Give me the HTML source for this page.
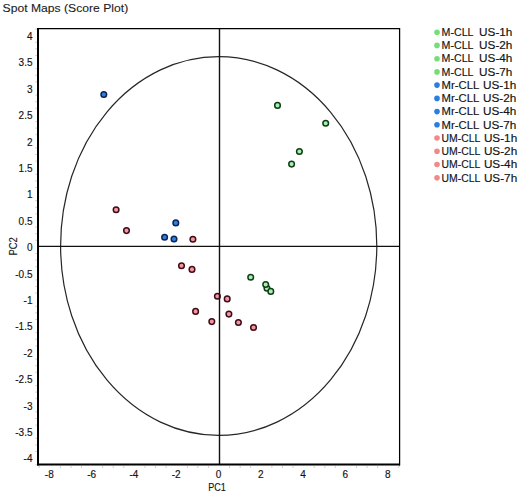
<!DOCTYPE html><html><head><meta charset="utf-8"><style>html,body{margin:0;padding:0;background:#fff;width:520px;height:494px;overflow:hidden}svg{display:block}text{font-family:"Liberation Sans", sans-serif;stroke:#1a1a1a;stroke-width:0.15px}</style></head><body>
<svg width="520" height="494" viewBox="0 0 520 494">
<rect x="0" y="0" width="520" height="494" fill="#fff"/>
<text x="2.6" y="12" font-size="10.4" fill="#222" style="stroke-width:0.1px" textLength="125.6" lengthAdjust="spacingAndGlyphs">Spot Maps (Score Plot)</text>
<ellipse cx="218.7" cy="246" rx="158.1" ry="189.4" fill="none" stroke="#262626" stroke-width="1.2"/>
<circle cx="116.1" cy="209.7" r="2.80" fill="#f2979f" stroke="#3d0c16" stroke-width="1.50"/>
<circle cx="126.5" cy="230.6" r="2.80" fill="#f2979f" stroke="#3d0c16" stroke-width="1.50"/>
<circle cx="192.9" cy="239.2" r="2.80" fill="#f2979f" stroke="#3d0c16" stroke-width="1.50"/>
<circle cx="181.5" cy="265.7" r="2.80" fill="#f2979f" stroke="#3d0c16" stroke-width="1.50"/>
<circle cx="192.0" cy="269.4" r="2.80" fill="#f2979f" stroke="#3d0c16" stroke-width="1.50"/>
<circle cx="217.4" cy="296.3" r="2.80" fill="#f2979f" stroke="#3d0c16" stroke-width="1.50"/>
<circle cx="227.2" cy="298.9" r="2.80" fill="#f2979f" stroke="#3d0c16" stroke-width="1.50"/>
<circle cx="195.6" cy="311.4" r="2.80" fill="#f2979f" stroke="#3d0c16" stroke-width="1.50"/>
<circle cx="228.9" cy="314.1" r="2.80" fill="#f2979f" stroke="#3d0c16" stroke-width="1.50"/>
<circle cx="211.8" cy="321.6" r="2.80" fill="#f2979f" stroke="#3d0c16" stroke-width="1.50"/>
<circle cx="238.4" cy="322.5" r="2.80" fill="#f2979f" stroke="#3d0c16" stroke-width="1.50"/>
<circle cx="253.5" cy="327.5" r="2.80" fill="#f2979f" stroke="#3d0c16" stroke-width="1.50"/>
<circle cx="103.8" cy="94.5" r="2.80" fill="#2f80e0" stroke="#0b2456" stroke-width="1.50"/>
<circle cx="175.8" cy="222.9" r="2.80" fill="#2f80e0" stroke="#0b2456" stroke-width="1.50"/>
<circle cx="164.6" cy="237.2" r="2.80" fill="#2f80e0" stroke="#0b2456" stroke-width="1.50"/>
<circle cx="174.0" cy="239.0" r="2.80" fill="#2f80e0" stroke="#0b2456" stroke-width="1.50"/>
<circle cx="277.5" cy="105.4" r="2.80" fill="#aaeeb0" stroke="#0f3d18" stroke-width="1.50"/>
<circle cx="325.7" cy="123.2" r="2.80" fill="#aaeeb0" stroke="#0f3d18" stroke-width="1.50"/>
<circle cx="299.4" cy="151.5" r="2.80" fill="#aaeeb0" stroke="#0f3d18" stroke-width="1.50"/>
<circle cx="291.6" cy="164.1" r="2.80" fill="#aaeeb0" stroke="#0f3d18" stroke-width="1.50"/>
<circle cx="250.7" cy="277.3" r="2.80" fill="#aaeeb0" stroke="#0f3d18" stroke-width="1.50"/>
<circle cx="267.0" cy="288.3" r="2.80" fill="#aaeeb0" stroke="#0f3d18" stroke-width="1.50"/>
<circle cx="265.7" cy="284.5" r="2.80" fill="#aaeeb0" stroke="#0f3d18" stroke-width="1.50"/>
<circle cx="270.8" cy="291.4" r="2.80" fill="#aaeeb0" stroke="#0f3d18" stroke-width="1.50"/>
<line x1="38" y1="246.4" x2="400" y2="246.4" stroke="#111" stroke-width="1.35"/>
<line x1="219.5" y1="28" x2="219.5" y2="465" stroke="#111" stroke-width="1.4"/>
<line x1="37.5" y1="28.6" x2="399.5" y2="28.6" stroke="#000" stroke-width="1.1"/>
<line x1="399.6" y1="28" x2="399.6" y2="465.5" stroke="#000" stroke-width="1.25"/>
<line x1="38" y1="28" x2="38" y2="465.5" stroke="#000" stroke-width="2"/>
<line x1="37" y1="464.5" x2="400" y2="464.5" stroke="#000" stroke-width="2"/>
<line x1="39.2" y1="466" x2="39.2" y2="468" stroke="#d0d0d0" stroke-width="1"/>
<line x1="60.4" y1="466" x2="60.4" y2="468" stroke="#d0d0d0" stroke-width="1"/>
<line x1="71.0" y1="466" x2="71.0" y2="468" stroke="#d0d0d0" stroke-width="1"/>
<line x1="81.5" y1="466" x2="81.5" y2="468" stroke="#d0d0d0" stroke-width="1"/>
<line x1="102.7" y1="466" x2="102.7" y2="468" stroke="#d0d0d0" stroke-width="1"/>
<line x1="113.2" y1="466" x2="113.2" y2="468" stroke="#d0d0d0" stroke-width="1"/>
<line x1="123.8" y1="466" x2="123.8" y2="468" stroke="#d0d0d0" stroke-width="1"/>
<line x1="145.0" y1="466" x2="145.0" y2="468" stroke="#d0d0d0" stroke-width="1"/>
<line x1="155.6" y1="466" x2="155.6" y2="468" stroke="#d0d0d0" stroke-width="1"/>
<line x1="166.1" y1="466" x2="166.1" y2="468" stroke="#d0d0d0" stroke-width="1"/>
<line x1="187.3" y1="466" x2="187.3" y2="468" stroke="#d0d0d0" stroke-width="1"/>
<line x1="197.8" y1="466" x2="197.8" y2="468" stroke="#d0d0d0" stroke-width="1"/>
<line x1="208.4" y1="466" x2="208.4" y2="468" stroke="#d0d0d0" stroke-width="1"/>
<line x1="229.6" y1="466" x2="229.6" y2="468" stroke="#d0d0d0" stroke-width="1"/>
<line x1="240.2" y1="466" x2="240.2" y2="468" stroke="#d0d0d0" stroke-width="1"/>
<line x1="250.7" y1="466" x2="250.7" y2="468" stroke="#d0d0d0" stroke-width="1"/>
<line x1="271.9" y1="466" x2="271.9" y2="468" stroke="#d0d0d0" stroke-width="1"/>
<line x1="282.4" y1="466" x2="282.4" y2="468" stroke="#d0d0d0" stroke-width="1"/>
<line x1="293.0" y1="466" x2="293.0" y2="468" stroke="#d0d0d0" stroke-width="1"/>
<line x1="314.2" y1="466" x2="314.2" y2="468" stroke="#d0d0d0" stroke-width="1"/>
<line x1="324.8" y1="466" x2="324.8" y2="468" stroke="#d0d0d0" stroke-width="1"/>
<line x1="335.3" y1="466" x2="335.3" y2="468" stroke="#d0d0d0" stroke-width="1"/>
<line x1="356.5" y1="466" x2="356.5" y2="468" stroke="#d0d0d0" stroke-width="1"/>
<line x1="367.0" y1="466" x2="367.0" y2="468" stroke="#d0d0d0" stroke-width="1"/>
<line x1="377.6" y1="466" x2="377.6" y2="468" stroke="#d0d0d0" stroke-width="1"/>
<line x1="398.8" y1="466" x2="398.8" y2="468" stroke="#d0d0d0" stroke-width="1"/>
<line x1="35.3" y1="464.7" x2="37" y2="464.7" stroke="#d0d0d0" stroke-width="1"/>
<line x1="35.3" y1="451.5" x2="37" y2="451.5" stroke="#d0d0d0" stroke-width="1"/>
<line x1="35.3" y1="444.9" x2="37" y2="444.9" stroke="#d0d0d0" stroke-width="1"/>
<line x1="35.3" y1="438.3" x2="37" y2="438.3" stroke="#d0d0d0" stroke-width="1"/>
<line x1="35.3" y1="425.1" x2="37" y2="425.1" stroke="#d0d0d0" stroke-width="1"/>
<line x1="35.3" y1="418.5" x2="37" y2="418.5" stroke="#d0d0d0" stroke-width="1"/>
<line x1="35.3" y1="411.9" x2="37" y2="411.9" stroke="#d0d0d0" stroke-width="1"/>
<line x1="35.3" y1="398.7" x2="37" y2="398.7" stroke="#d0d0d0" stroke-width="1"/>
<line x1="35.3" y1="392.1" x2="37" y2="392.1" stroke="#d0d0d0" stroke-width="1"/>
<line x1="35.3" y1="385.5" x2="37" y2="385.5" stroke="#d0d0d0" stroke-width="1"/>
<line x1="35.3" y1="372.3" x2="37" y2="372.3" stroke="#d0d0d0" stroke-width="1"/>
<line x1="35.3" y1="365.7" x2="37" y2="365.7" stroke="#d0d0d0" stroke-width="1"/>
<line x1="35.3" y1="359.1" x2="37" y2="359.1" stroke="#d0d0d0" stroke-width="1"/>
<line x1="35.3" y1="345.9" x2="37" y2="345.9" stroke="#d0d0d0" stroke-width="1"/>
<line x1="35.3" y1="339.3" x2="37" y2="339.3" stroke="#d0d0d0" stroke-width="1"/>
<line x1="35.3" y1="332.7" x2="37" y2="332.7" stroke="#d0d0d0" stroke-width="1"/>
<line x1="35.3" y1="319.5" x2="37" y2="319.5" stroke="#d0d0d0" stroke-width="1"/>
<line x1="35.3" y1="312.9" x2="37" y2="312.9" stroke="#d0d0d0" stroke-width="1"/>
<line x1="35.3" y1="306.3" x2="37" y2="306.3" stroke="#d0d0d0" stroke-width="1"/>
<line x1="35.3" y1="293.1" x2="37" y2="293.1" stroke="#d0d0d0" stroke-width="1"/>
<line x1="35.3" y1="286.5" x2="37" y2="286.5" stroke="#d0d0d0" stroke-width="1"/>
<line x1="35.3" y1="279.9" x2="37" y2="279.9" stroke="#d0d0d0" stroke-width="1"/>
<line x1="35.3" y1="266.7" x2="37" y2="266.7" stroke="#d0d0d0" stroke-width="1"/>
<line x1="35.3" y1="260.1" x2="37" y2="260.1" stroke="#d0d0d0" stroke-width="1"/>
<line x1="35.3" y1="253.5" x2="37" y2="253.5" stroke="#d0d0d0" stroke-width="1"/>
<line x1="35.3" y1="240.3" x2="37" y2="240.3" stroke="#d0d0d0" stroke-width="1"/>
<line x1="35.3" y1="233.7" x2="37" y2="233.7" stroke="#d0d0d0" stroke-width="1"/>
<line x1="35.3" y1="227.1" x2="37" y2="227.1" stroke="#d0d0d0" stroke-width="1"/>
<line x1="35.3" y1="213.9" x2="37" y2="213.9" stroke="#d0d0d0" stroke-width="1"/>
<line x1="35.3" y1="207.3" x2="37" y2="207.3" stroke="#d0d0d0" stroke-width="1"/>
<line x1="35.3" y1="200.7" x2="37" y2="200.7" stroke="#d0d0d0" stroke-width="1"/>
<line x1="35.3" y1="187.5" x2="37" y2="187.5" stroke="#d0d0d0" stroke-width="1"/>
<line x1="35.3" y1="180.9" x2="37" y2="180.9" stroke="#d0d0d0" stroke-width="1"/>
<line x1="35.3" y1="174.3" x2="37" y2="174.3" stroke="#d0d0d0" stroke-width="1"/>
<line x1="35.3" y1="161.1" x2="37" y2="161.1" stroke="#d0d0d0" stroke-width="1"/>
<line x1="35.3" y1="154.5" x2="37" y2="154.5" stroke="#d0d0d0" stroke-width="1"/>
<line x1="35.3" y1="147.9" x2="37" y2="147.9" stroke="#d0d0d0" stroke-width="1"/>
<line x1="35.3" y1="134.7" x2="37" y2="134.7" stroke="#d0d0d0" stroke-width="1"/>
<line x1="35.3" y1="128.1" x2="37" y2="128.1" stroke="#d0d0d0" stroke-width="1"/>
<line x1="35.3" y1="121.5" x2="37" y2="121.5" stroke="#d0d0d0" stroke-width="1"/>
<line x1="35.3" y1="108.3" x2="37" y2="108.3" stroke="#d0d0d0" stroke-width="1"/>
<line x1="35.3" y1="101.7" x2="37" y2="101.7" stroke="#d0d0d0" stroke-width="1"/>
<line x1="35.3" y1="95.1" x2="37" y2="95.1" stroke="#d0d0d0" stroke-width="1"/>
<line x1="35.3" y1="81.9" x2="37" y2="81.9" stroke="#d0d0d0" stroke-width="1"/>
<line x1="35.3" y1="75.3" x2="37" y2="75.3" stroke="#d0d0d0" stroke-width="1"/>
<line x1="35.3" y1="68.7" x2="37" y2="68.7" stroke="#d0d0d0" stroke-width="1"/>
<line x1="35.3" y1="55.5" x2="37" y2="55.5" stroke="#d0d0d0" stroke-width="1"/>
<line x1="35.3" y1="48.9" x2="37" y2="48.9" stroke="#d0d0d0" stroke-width="1"/>
<line x1="35.3" y1="42.3" x2="37" y2="42.3" stroke="#d0d0d0" stroke-width="1"/>
<line x1="35.3" y1="29.1" x2="37" y2="29.1" stroke="#d0d0d0" stroke-width="1"/>
<text x="32.5" y="462.4" font-size="10" text-anchor="end" fill="#111">-4</text>
<text x="32.5" y="436.0" font-size="10" text-anchor="end" fill="#111">-3.5</text>
<text x="32.5" y="409.6" font-size="10" text-anchor="end" fill="#111">-3</text>
<text x="32.5" y="383.2" font-size="10" text-anchor="end" fill="#111">-2.5</text>
<text x="32.5" y="356.8" font-size="10" text-anchor="end" fill="#111">-2</text>
<text x="32.5" y="330.4" font-size="10" text-anchor="end" fill="#111">-1.5</text>
<text x="32.5" y="304.0" font-size="10" text-anchor="end" fill="#111">-1</text>
<text x="32.5" y="277.6" font-size="10" text-anchor="end" fill="#111">-0.5</text>
<text x="32.5" y="251.2" font-size="10" text-anchor="end" fill="#111">0</text>
<text x="32.5" y="224.8" font-size="10" text-anchor="end" fill="#111">0.5</text>
<text x="32.5" y="198.4" font-size="10" text-anchor="end" fill="#111">1</text>
<text x="32.5" y="172.0" font-size="10" text-anchor="end" fill="#111">1.5</text>
<text x="32.5" y="145.6" font-size="10" text-anchor="end" fill="#111">2</text>
<text x="32.5" y="119.2" font-size="10" text-anchor="end" fill="#111">2.5</text>
<text x="32.5" y="92.8" font-size="10" text-anchor="end" fill="#111">3</text>
<text x="32.5" y="66.4" font-size="10" text-anchor="end" fill="#111">3.5</text>
<text x="32.5" y="40.0" font-size="10" text-anchor="end" fill="#111">4</text>
<text x="49.3" y="478.1" font-size="10" text-anchor="middle" fill="#111">-8</text>
<text x="91.6" y="478.1" font-size="10" text-anchor="middle" fill="#111">-6</text>
<text x="133.9" y="478.1" font-size="10" text-anchor="middle" fill="#111">-4</text>
<text x="176.2" y="478.1" font-size="10" text-anchor="middle" fill="#111">-2</text>
<text x="218.5" y="478.1" font-size="10" text-anchor="middle" fill="#111">0</text>
<text x="260.8" y="478.1" font-size="10" text-anchor="middle" fill="#111">2</text>
<text x="303.1" y="478.1" font-size="10" text-anchor="middle" fill="#111">4</text>
<text x="345.4" y="478.1" font-size="10" text-anchor="middle" fill="#111">6</text>
<text x="387.7" y="478.1" font-size="10" text-anchor="middle" fill="#111">8</text>
<text x="208.2" y="490.8" font-size="10.9" fill="#111" textLength="17.6" lengthAdjust="spacingAndGlyphs">PC1</text>
<text transform="translate(17.3 255.6) rotate(-90)" x="0" y="0" font-size="10.9" fill="#111" textLength="18.4" lengthAdjust="spacingAndGlyphs">PC2</text>
<circle cx="437" cy="32.2" r="2.8" fill="#77dd77"/>
<text x="441.6" y="35.8" font-size="10" fill="#111" textLength="31.9" lengthAdjust="spacingAndGlyphs">M-CLL</text>
<text x="479.1" y="35.8" font-size="10" fill="#111" textLength="33.3" lengthAdjust="spacingAndGlyphs">US-1h</text>
<circle cx="437" cy="45.4" r="2.8" fill="#77dd77"/>
<text x="441.6" y="49.0" font-size="10" fill="#111" textLength="31.9" lengthAdjust="spacingAndGlyphs">M-CLL</text>
<text x="479.1" y="49.0" font-size="10" fill="#111" textLength="33.3" lengthAdjust="spacingAndGlyphs">US-2h</text>
<circle cx="437" cy="58.7" r="2.8" fill="#77dd77"/>
<text x="441.6" y="62.3" font-size="10" fill="#111" textLength="31.9" lengthAdjust="spacingAndGlyphs">M-CLL</text>
<text x="479.1" y="62.3" font-size="10" fill="#111" textLength="33.3" lengthAdjust="spacingAndGlyphs">US-4h</text>
<circle cx="437" cy="71.9" r="2.8" fill="#77dd77"/>
<text x="441.6" y="75.5" font-size="10" fill="#111" textLength="31.9" lengthAdjust="spacingAndGlyphs">M-CLL</text>
<text x="479.1" y="75.5" font-size="10" fill="#111" textLength="33.3" lengthAdjust="spacingAndGlyphs">US-7h</text>
<circle cx="437" cy="85.1" r="2.8" fill="#2b7de2"/>
<text x="441.6" y="88.8" font-size="10" fill="#111" textLength="37.6" lengthAdjust="spacingAndGlyphs">Mr-CLL</text>
<text x="483.0" y="88.8" font-size="10" fill="#111" textLength="33.3" lengthAdjust="spacingAndGlyphs">US-1h</text>
<circle cx="437" cy="98.4" r="2.8" fill="#2b7de2"/>
<text x="441.6" y="102.0" font-size="10" fill="#111" textLength="37.6" lengthAdjust="spacingAndGlyphs">Mr-CLL</text>
<text x="483.0" y="102.0" font-size="10" fill="#111" textLength="33.3" lengthAdjust="spacingAndGlyphs">US-2h</text>
<circle cx="437" cy="111.6" r="2.8" fill="#2b7de2"/>
<text x="441.6" y="115.3" font-size="10" fill="#111" textLength="37.6" lengthAdjust="spacingAndGlyphs">Mr-CLL</text>
<text x="483.0" y="115.3" font-size="10" fill="#111" textLength="33.3" lengthAdjust="spacingAndGlyphs">US-4h</text>
<circle cx="437" cy="124.8" r="2.8" fill="#2b7de2"/>
<text x="441.6" y="128.6" font-size="10" fill="#111" textLength="37.6" lengthAdjust="spacingAndGlyphs">Mr-CLL</text>
<text x="483.0" y="128.6" font-size="10" fill="#111" textLength="33.3" lengthAdjust="spacingAndGlyphs">US-7h</text>
<circle cx="437" cy="138.0" r="2.8" fill="#f08a8a"/>
<text x="441.6" y="141.8" font-size="10" fill="#111" textLength="38.8" lengthAdjust="spacingAndGlyphs">UM-CLL</text>
<text x="483.9" y="141.8" font-size="10" fill="#111" textLength="33.3" lengthAdjust="spacingAndGlyphs">US-1h</text>
<circle cx="437" cy="151.3" r="2.8" fill="#f08a8a"/>
<text x="441.6" y="155.1" font-size="10" fill="#111" textLength="38.8" lengthAdjust="spacingAndGlyphs">UM-CLL</text>
<text x="483.9" y="155.1" font-size="10" fill="#111" textLength="33.3" lengthAdjust="spacingAndGlyphs">US-2h</text>
<circle cx="437" cy="164.5" r="2.8" fill="#f08a8a"/>
<text x="441.6" y="168.3" font-size="10" fill="#111" textLength="38.8" lengthAdjust="spacingAndGlyphs">UM-CLL</text>
<text x="483.9" y="168.3" font-size="10" fill="#111" textLength="33.3" lengthAdjust="spacingAndGlyphs">US-4h</text>
<circle cx="437" cy="177.7" r="2.8" fill="#f08a8a"/>
<text x="441.6" y="181.6" font-size="10" fill="#111" textLength="38.8" lengthAdjust="spacingAndGlyphs">UM-CLL</text>
<text x="483.9" y="181.6" font-size="10" fill="#111" textLength="33.3" lengthAdjust="spacingAndGlyphs">US-7h</text>
</svg></body></html>
